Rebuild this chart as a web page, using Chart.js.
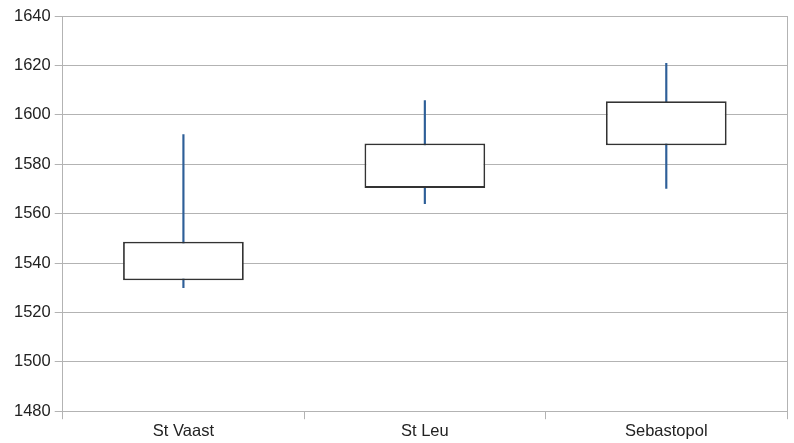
<!DOCTYPE html>
<html>
<head>
<meta charset="utf-8">
<script src="https://cdn.jsdelivr.net/npm/chart.js@4"></script>
<style>
  html, body { margin: 0; padding: 0; background: #fff; }
  #wrap { width: 794px; height: 443px; }
</style>
</head>
<body>
<div id="wrap"><canvas id="chart"></canvas></div>
<script>
// Données
const sites = ['St Vaast', 'St Leu', 'Sebastopol'];
const boxLow = [1533, 1570.4, 1587.7];
const boxHigh = [1548.6, 1588.4, 1605.5];
const whiskerLow = [1530, 1564, 1570.2];
const whiskerHigh = [1592, 1605.8, 1620.8];
const yTicks = [1480, 1500, 1520, 1540, 1560, 1580, 1600, 1620, 1640];

const GRID = '#b3b3b3';
const TEXT = '#222';

// bordure droite de la zone de tracé
const rightBorder = {
  id: 'rightBorder',
  afterDraw(chart) {
    const { ctx, chartArea } = chart;
    ctx.save();
    ctx.strokeStyle = GRID;
    ctx.lineWidth = 1;
    ctx.beginPath();
    ctx.moveTo(chartArea.right + 0.5, chartArea.top);
    ctx.lineTo(chartArea.right + 0.5, chartArea.bottom);
    ctx.stroke();
    ctx.restore();
  }
};

new Chart(document.getElementById('chart'), {
  type: 'bar',
  data: {
    labels: sites,
    datasets: [
      {
        label: 'Boîte',
        data: sites.map((_, i) => [boxLow[i], boxHigh[i]]),
        backgroundColor: '#ffffff',
        borderColor: '#333333',
        borderWidth: 1.8,
        borderSkipped: false,
        grouped: false,
        categoryPercentage: 0.5,
        barPercentage: 1
      },
      {
        label: 'Min-Max',
        data: sites.map((_, i) => [whiskerLow[i], whiskerHigh[i]]),
        backgroundColor: '#2e5f98',
        borderWidth: 0,
        grouped: false,
        barThickness: 1.5
      }
    ]
  },
  options: {
    responsive: true,
    maintainAspectRatio: false,
    animation: false,
    layout: { padding: { top: 16, right: 7, left: 10, bottom: 0 } },
    plugins: {
      legend: { display: false },
      tooltip: { enabled: false }
    },
    scales: {
      x: {
        grid: {
          offset: true,
          drawOnChartArea: false,
          color: GRID,
          tickLength: 8
        },
        border: { color: GRID },
        ticks: {
          color: TEXT,
          font: { family: 'Liberation Sans', size: 16.5 },
          padding: 2
        }
      },
      y: {
        min: 1480,
        max: 1640,
        afterBuildTicks(axis) {
          axis.ticks = yTicks.map(v => ({ value: v }));
        },
        grid: {
          color: GRID,
          tickLength: 8
        },
        border: { color: GRID },
        ticks: {
          color: TEXT,
          font: { family: 'Liberation Sans', size: 16.5 },
          padding: 4,
          callback: v => String(v)
        }
      }
    }
  },
  plugins: [rightBorder]
});
</script>
</body>
</html>
